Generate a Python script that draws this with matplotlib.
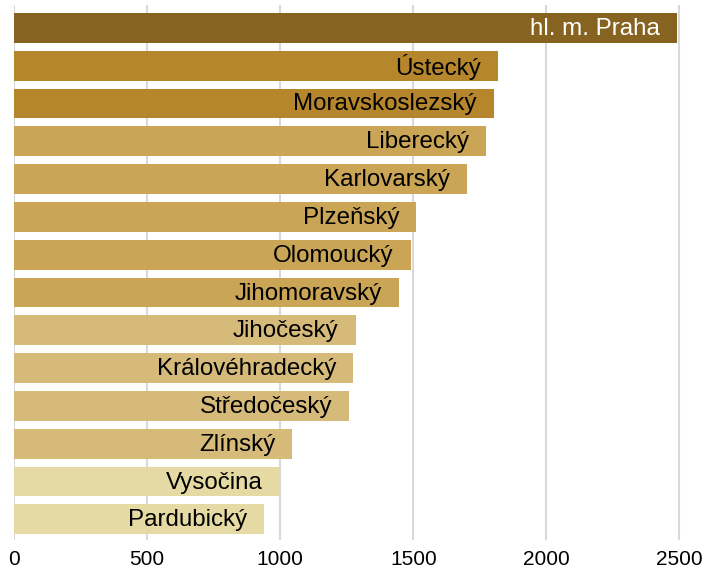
import matplotlib.pyplot as plt

plt.rcParams['font.family'] = ['Liberation Sans', 'DejaVu Sans']

regions = ['hl. m. Praha', 'Ústecký', 'Moravskoslezský', 'Liberecký', 'Karlovarský',
           'Plzeňský', 'Olomoucký', 'Jihomoravský', 'Jihočeský', 'Královéhradecký',
           'Středočeský', 'Zlínský', 'Vysočina', 'Pardubický']
values = [2492, 1819, 1803, 1775, 1703, 1512, 1490, 1446, 1283, 1274, 1260, 1046, 999, 940]
groups = [0, 1, 1, 2, 2, 2, 2, 2, 3, 3, 3, 3, 4, 4]
ticks = [0, 500, 1000, 1500, 2000, 2500]

group_colors = ['#876321', '#B5862C', '#C9A555', '#D5BA7A', '#E5DAA3']

fig = plt.figure(figsize=(7.04, 5.71), dpi=100)
ax = fig.add_axes([0.02, 0.054, 0.947, 0.937])

y = list(range(len(regions)))
colors = [group_colors[g] for g in groups]
ax.barh(y, values, height=0.79, color=colors, zorder=2)

for i, (name, v) in enumerate(zip(regions, values)):
    ax.annotate(name, xy=(v, i), xytext=(-17, -1), textcoords='offset pixels',
                ha='right', va='center', fontsize=17.4,
                color='white' if i == 0 else 'black', zorder=3)

ax.set_xlim(0, 2505)
ax.set_ylim(13.55, -0.6)
ax.set_xticks(ticks)
ax.set_xticklabels([str(t) for t in ticks], fontsize=15)
ax.set_yticks([])
ax.tick_params(axis='x', length=0, pad=7)
ax.grid(axis='x', color='#D9D9D9', linewidth=1.5, zorder=0)
for s in ax.spines.values():
    s.set_visible(False)

fig.savefig('out.png', dpi=100)
